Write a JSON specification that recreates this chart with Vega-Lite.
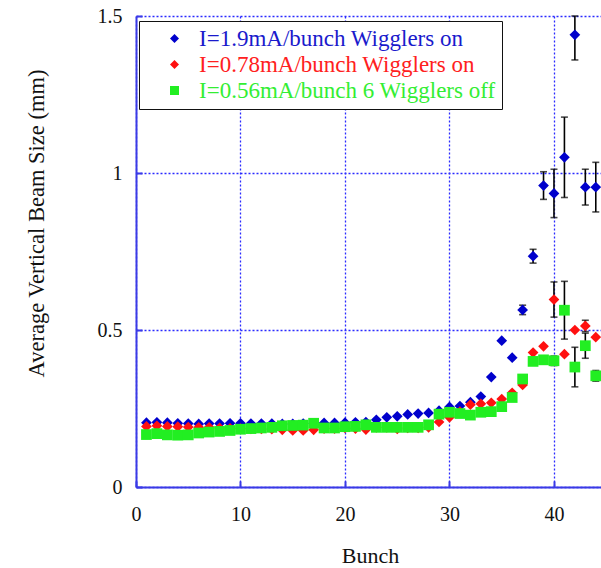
{
  "$schema": "https://vega.github.io/schema/vega-lite/v6.json",
  "width": 465,
  "height": 471,
  "autosize": {"type": "none"},
  "padding": {"left": 136, "top": 16, "right": 0, "bottom": 81},
  "background": "white",
  "config": {
    "view": {"stroke": null},
    "font": "Liberation Serif",
    "axis": {
      "labelFont": "Liberation Serif",
      "titleFont": "Liberation Serif",
      "labelFontSize": 20,
      "titleFontSize": 22.5,
      "labelColor": "#111111",
      "titleColor": "#111111",
      "titleFontWeight": "normal",
      "domainColor": "#3a3ae6",
      "domainWidth": 2,
      "grid": true,
      "gridColor": "#2a2aff",
      "gridDash": [2, 2],
      "gridWidth": 1.3,
      "gridOpacity": 1,
      "tickColor": "#3a3ae6",
      "tickSize": -6,
      "tickWidth": 2
    }
  },
  "datasets": {
    "pts": [
      {"s": "I=1.9mA/bunch Wigglers on", "b": 1, "v": 0.205},
      {"s": "I=1.9mA/bunch Wigglers on", "b": 2, "v": 0.206},
      {"s": "I=1.9mA/bunch Wigglers on", "b": 3, "v": 0.205},
      {"s": "I=1.9mA/bunch Wigglers on", "b": 4, "v": 0.203},
      {"s": "I=1.9mA/bunch Wigglers on", "b": 5, "v": 0.202},
      {"s": "I=1.9mA/bunch Wigglers on", "b": 6, "v": 0.201},
      {"s": "I=1.9mA/bunch Wigglers on", "b": 7, "v": 0.202},
      {"s": "I=1.9mA/bunch Wigglers on", "b": 8, "v": 0.202},
      {"s": "I=1.9mA/bunch Wigglers on", "b": 9, "v": 0.203},
      {"s": "I=1.9mA/bunch Wigglers on", "b": 10, "v": 0.203},
      {"s": "I=1.9mA/bunch Wigglers on", "b": 11, "v": 0.202},
      {"s": "I=1.9mA/bunch Wigglers on", "b": 12, "v": 0.202},
      {"s": "I=1.9mA/bunch Wigglers on", "b": 13, "v": 0.202},
      {"s": "I=1.9mA/bunch Wigglers on", "b": 14, "v": 0.201},
      {"s": "I=1.9mA/bunch Wigglers on", "b": 15, "v": 0.201},
      {"s": "I=1.9mA/bunch Wigglers on", "b": 16, "v": 0.202},
      {"s": "I=1.9mA/bunch Wigglers on", "b": 17, "v": 0.203},
      {"s": "I=1.9mA/bunch Wigglers on", "b": 18, "v": 0.204},
      {"s": "I=1.9mA/bunch Wigglers on", "b": 19, "v": 0.204},
      {"s": "I=1.9mA/bunch Wigglers on", "b": 20, "v": 0.205},
      {"s": "I=1.9mA/bunch Wigglers on", "b": 21, "v": 0.206},
      {"s": "I=1.9mA/bunch Wigglers on", "b": 22, "v": 0.207},
      {"s": "I=1.9mA/bunch Wigglers on", "b": 23, "v": 0.214},
      {"s": "I=1.9mA/bunch Wigglers on", "b": 24, "v": 0.222},
      {"s": "I=1.9mA/bunch Wigglers on", "b": 25, "v": 0.225},
      {"s": "I=1.9mA/bunch Wigglers on", "b": 26, "v": 0.231},
      {"s": "I=1.9mA/bunch Wigglers on", "b": 27, "v": 0.234},
      {"s": "I=1.9mA/bunch Wigglers on", "b": 28, "v": 0.236},
      {"s": "I=1.9mA/bunch Wigglers on", "b": 29, "v": 0.243},
      {"s": "I=1.9mA/bunch Wigglers on", "b": 30, "v": 0.255},
      {"s": "I=1.9mA/bunch Wigglers on", "b": 31, "v": 0.258},
      {"s": "I=1.9mA/bunch Wigglers on", "b": 32, "v": 0.27},
      {"s": "I=1.9mA/bunch Wigglers on", "b": 33, "v": 0.288},
      {"s": "I=1.9mA/bunch Wigglers on", "b": 34, "v": 0.35},
      {"s": "I=1.9mA/bunch Wigglers on", "b": 35, "v": 0.466},
      {"s": "I=1.9mA/bunch Wigglers on", "b": 36, "v": 0.412},
      {"s": "I=1.9mA/bunch Wigglers on", "b": 37, "v": 0.564},
      {"s": "I=1.9mA/bunch Wigglers on", "b": 38, "v": 0.735},
      {"s": "I=1.9mA/bunch Wigglers on", "b": 39, "v": 0.96},
      {"s": "I=1.9mA/bunch Wigglers on", "b": 40, "v": 0.935},
      {"s": "I=1.9mA/bunch Wigglers on", "b": 41, "v": 1.05},
      {"s": "I=1.9mA/bunch Wigglers on", "b": 42, "v": 1.44},
      {"s": "I=1.9mA/bunch Wigglers on", "b": 43, "v": 0.955},
      {"s": "I=1.9mA/bunch Wigglers on", "b": 44, "v": 0.955},
      {"s": "I=0.78mA/bunch Wigglers on", "b": 1, "v": 0.193},
      {"s": "I=0.78mA/bunch Wigglers on", "b": 2, "v": 0.195},
      {"s": "I=0.78mA/bunch Wigglers on", "b": 3, "v": 0.193},
      {"s": "I=0.78mA/bunch Wigglers on", "b": 4, "v": 0.192},
      {"s": "I=0.78mA/bunch Wigglers on", "b": 5, "v": 0.191},
      {"s": "I=0.78mA/bunch Wigglers on", "b": 6, "v": 0.19},
      {"s": "I=0.78mA/bunch Wigglers on", "b": 7, "v": 0.19},
      {"s": "I=0.78mA/bunch Wigglers on", "b": 8, "v": 0.188},
      {"s": "I=0.78mA/bunch Wigglers on", "b": 9, "v": 0.187},
      {"s": "I=0.78mA/bunch Wigglers on", "b": 10, "v": 0.186},
      {"s": "I=0.78mA/bunch Wigglers on", "b": 11, "v": 0.185},
      {"s": "I=0.78mA/bunch Wigglers on", "b": 12, "v": 0.185},
      {"s": "I=0.78mA/bunch Wigglers on", "b": 13, "v": 0.184},
      {"s": "I=0.78mA/bunch Wigglers on", "b": 14, "v": 0.182},
      {"s": "I=0.78mA/bunch Wigglers on", "b": 15, "v": 0.18},
      {"s": "I=0.78mA/bunch Wigglers on", "b": 16, "v": 0.18},
      {"s": "I=0.78mA/bunch Wigglers on", "b": 17, "v": 0.182},
      {"s": "I=0.78mA/bunch Wigglers on", "b": 18, "v": 0.186},
      {"s": "I=0.78mA/bunch Wigglers on", "b": 19, "v": 0.186},
      {"s": "I=0.78mA/bunch Wigglers on", "b": 20, "v": 0.188},
      {"s": "I=0.78mA/bunch Wigglers on", "b": 21, "v": 0.186},
      {"s": "I=0.78mA/bunch Wigglers on", "b": 22, "v": 0.183},
      {"s": "I=0.78mA/bunch Wigglers on", "b": 23, "v": 0.19},
      {"s": "I=0.78mA/bunch Wigglers on", "b": 24, "v": 0.19},
      {"s": "I=0.78mA/bunch Wigglers on", "b": 25, "v": 0.185},
      {"s": "I=0.78mA/bunch Wigglers on", "b": 26, "v": 0.188},
      {"s": "I=0.78mA/bunch Wigglers on", "b": 27, "v": 0.188},
      {"s": "I=0.78mA/bunch Wigglers on", "b": 28, "v": 0.19},
      {"s": "I=0.78mA/bunch Wigglers on", "b": 29, "v": 0.207},
      {"s": "I=0.78mA/bunch Wigglers on", "b": 30, "v": 0.222},
      {"s": "I=0.78mA/bunch Wigglers on", "b": 31, "v": 0.24},
      {"s": "I=0.78mA/bunch Wigglers on", "b": 32, "v": 0.262},
      {"s": "I=0.78mA/bunch Wigglers on", "b": 33, "v": 0.265},
      {"s": "I=0.78mA/bunch Wigglers on", "b": 34, "v": 0.268},
      {"s": "I=0.78mA/bunch Wigglers on", "b": 35, "v": 0.28},
      {"s": "I=0.78mA/bunch Wigglers on", "b": 36, "v": 0.3},
      {"s": "I=0.78mA/bunch Wigglers on", "b": 37, "v": 0.325},
      {"s": "I=0.78mA/bunch Wigglers on", "b": 38, "v": 0.428},
      {"s": "I=0.78mA/bunch Wigglers on", "b": 39, "v": 0.448},
      {"s": "I=0.78mA/bunch Wigglers on", "b": 40, "v": 0.597},
      {"s": "I=0.78mA/bunch Wigglers on", "b": 41, "v": 0.423},
      {"s": "I=0.78mA/bunch Wigglers on", "b": 42, "v": 0.5},
      {"s": "I=0.78mA/bunch Wigglers on", "b": 43, "v": 0.513},
      {"s": "I=0.78mA/bunch Wigglers on", "b": 44, "v": 0.477},
      {"s": "I=0.56mA/bunch 6 Wigglers off", "b": 1, "v": 0.167},
      {"s": "I=0.56mA/bunch 6 Wigglers off", "b": 2, "v": 0.17},
      {"s": "I=0.56mA/bunch 6 Wigglers off", "b": 3, "v": 0.166},
      {"s": "I=0.56mA/bunch 6 Wigglers off", "b": 4, "v": 0.165},
      {"s": "I=0.56mA/bunch 6 Wigglers off", "b": 5, "v": 0.166},
      {"s": "I=0.56mA/bunch 6 Wigglers off", "b": 6, "v": 0.172},
      {"s": "I=0.56mA/bunch 6 Wigglers off", "b": 7, "v": 0.175},
      {"s": "I=0.56mA/bunch 6 Wigglers off", "b": 8, "v": 0.177},
      {"s": "I=0.56mA/bunch 6 Wigglers off", "b": 9, "v": 0.18},
      {"s": "I=0.56mA/bunch 6 Wigglers off", "b": 10, "v": 0.184},
      {"s": "I=0.56mA/bunch 6 Wigglers off", "b": 11, "v": 0.186},
      {"s": "I=0.56mA/bunch 6 Wigglers off", "b": 12, "v": 0.188},
      {"s": "I=0.56mA/bunch 6 Wigglers off", "b": 13, "v": 0.19},
      {"s": "I=0.56mA/bunch 6 Wigglers off", "b": 14, "v": 0.195},
      {"s": "I=0.56mA/bunch 6 Wigglers off", "b": 15, "v": 0.196},
      {"s": "I=0.56mA/bunch 6 Wigglers off", "b": 16, "v": 0.197},
      {"s": "I=0.56mA/bunch 6 Wigglers off", "b": 17, "v": 0.203},
      {"s": "I=0.56mA/bunch 6 Wigglers off", "b": 18, "v": 0.188},
      {"s": "I=0.56mA/bunch 6 Wigglers off", "b": 19, "v": 0.188},
      {"s": "I=0.56mA/bunch 6 Wigglers off", "b": 20, "v": 0.192},
      {"s": "I=0.56mA/bunch 6 Wigglers off", "b": 21, "v": 0.193},
      {"s": "I=0.56mA/bunch 6 Wigglers off", "b": 22, "v": 0.198},
      {"s": "I=0.56mA/bunch 6 Wigglers off", "b": 23, "v": 0.19},
      {"s": "I=0.56mA/bunch 6 Wigglers off", "b": 24, "v": 0.19},
      {"s": "I=0.56mA/bunch 6 Wigglers off", "b": 25, "v": 0.19},
      {"s": "I=0.56mA/bunch 6 Wigglers off", "b": 26, "v": 0.19},
      {"s": "I=0.56mA/bunch 6 Wigglers off", "b": 27, "v": 0.19},
      {"s": "I=0.56mA/bunch 6 Wigglers off", "b": 28, "v": 0.198},
      {"s": "I=0.56mA/bunch 6 Wigglers off", "b": 29, "v": 0.232},
      {"s": "I=0.56mA/bunch 6 Wigglers off", "b": 30, "v": 0.238},
      {"s": "I=0.56mA/bunch 6 Wigglers off", "b": 31, "v": 0.234},
      {"s": "I=0.56mA/bunch 6 Wigglers off", "b": 32, "v": 0.229},
      {"s": "I=0.56mA/bunch 6 Wigglers off", "b": 33, "v": 0.238},
      {"s": "I=0.56mA/bunch 6 Wigglers off", "b": 34, "v": 0.24},
      {"s": "I=0.56mA/bunch 6 Wigglers off", "b": 35, "v": 0.256},
      {"s": "I=0.56mA/bunch 6 Wigglers off", "b": 36, "v": 0.285},
      {"s": "I=0.56mA/bunch 6 Wigglers off", "b": 37, "v": 0.344},
      {"s": "I=0.56mA/bunch 6 Wigglers off", "b": 38, "v": 0.4},
      {"s": "I=0.56mA/bunch 6 Wigglers off", "b": 39, "v": 0.405},
      {"s": "I=0.56mA/bunch 6 Wigglers off", "b": 40, "v": 0.402},
      {"s": "I=0.56mA/bunch 6 Wigglers off", "b": 41, "v": 0.563},
      {"s": "I=0.56mA/bunch 6 Wigglers off", "b": 42, "v": 0.382},
      {"s": "I=0.56mA/bunch 6 Wigglers off", "b": 43, "v": 0.45},
      {"s": "I=0.56mA/bunch 6 Wigglers off", "b": 44, "v": 0.354}
    ],
    "errs": [
      {"b": 37, "lo": 0.549, "hi": 0.579},
      {"b": 38, "lo": 0.713, "hi": 0.757},
      {"b": 39, "lo": 0.916, "hi": 1.004},
      {"b": 40, "lo": 0.858, "hi": 1.012},
      {"b": 41, "lo": 0.922, "hi": 1.178},
      {"b": 42, "lo": 1.36, "hi": 1.5},
      {"b": 43, "lo": 0.898, "hi": 1.012},
      {"b": 44, "lo": 0.876, "hi": 1.034},
      {"b": 40, "lo": 0.541, "hi": 0.653},
      {"b": 43, "lo": 0.495, "hi": 0.531},
      {"b": 40, "lo": 0.387, "hi": 0.417},
      {"b": 41, "lo": 0.471, "hi": 0.655},
      {"b": 42, "lo": 0.319, "hi": 0.445},
      {"b": 43, "lo": 0.41, "hi": 0.49},
      {"b": 44, "lo": 0.337, "hi": 0.371}
    ]
  },
  "layer": [
    {
      "mark": {"type": "rule", "color": "#3a3ae6", "strokeWidth": 2},
      "encoding": {"y": {"datum": 1.5, "type": "quantitative", "scale": {"domain": [0, 1.5], "nice": false}, "title": "Average Vertical Beam Size (mm)"}}
    },
    {
      "data": {"name": "errs"},
      "mark": {"type": "errorbar", "color": "black", "thickness": 1.6, "ticks": {"size": 7, "color": "black", "thickness": 1.6}},
      "encoding": {
        "x": {"field": "b", "type": "quantitative", "scale": {"domain": [0, 44.5], "nice": false}, "title": "Bunch"},
        "y": {"field": "lo", "type": "quantitative", "scale": {"domain": [0, 1.5], "nice": false}, "title": "Average Vertical Beam Size (mm)"},
        "y2": {"field": "hi"}
      }
    },
    {
      "data": {"name": "pts"},
      "mark": {"type": "point", "filled": true, "opacity": 1, "size": 115, "strokeWidth": 0, "clip": true},
      "encoding": {
        "x": {
          "field": "b", "type": "quantitative",
          "scale": {"domain": [0, 44.5], "nice": false},
          "axis": {"values": [0, 10, 20, 30, 40], "grid": true, "title": "Bunch", "titleFontSize": 22, "titleX": 234, "titleY": 75, "titleBaseline": "alphabetic", "labelPadding": 23, "labelFlush": false}
        },
        "y": {
          "field": "v", "type": "quantitative",
          "scale": {"domain": [0, 1.5], "nice": false},
          "axis": {"values": [0, 0.5, 1, 1.5], "grid": true, "format": "~g", "title": "Average Vertical Beam Size (mm)", "titleX": -100, "titleY": 207, "titleBaseline": "middle", "labelPadding": 20, "labelFlush": false}
        },
        "color": {
          "field": "s", "type": "nominal",
          "scale": {"domain": ["I=1.9mA/bunch Wigglers on", "I=0.78mA/bunch Wigglers on", "I=0.56mA/bunch 6 Wigglers off"], "range": ["#0000cc", "#ff1010", "#22ee22"]},
          "legend": {"title": " ", "titleOrient": "left", "titleFontSize": 20, "titlePadding": 18, "orient": "none", "legendX": 3, "legendY": 5, "padding": 6, "strokeColor": "#111111", "fillColor": "white", "labelFont": "Liberation Serif", "labelFontSize": 23, "rowPadding": 2, "symbolSize": 81, "symbolOffset": 0, "labelOffset": 13, "labelLimit": 400, "symbolStrokeWidth": 0, "labelColor": {"expr": "datum.value == 'I=1.9mA/bunch Wigglers on' ? '#1a1acc' : datum.value == 'I=0.78mA/bunch Wigglers on' ? '#ff2020' : '#33ee33'"}, "encode": {"legend": {"update": {"strokeWidth": {"value": 2}}}}}
        },
        "shape": {
          "field": "s", "type": "nominal",
          "scale": {"domain": ["I=1.9mA/bunch Wigglers on", "I=0.78mA/bunch Wigglers on", "I=0.56mA/bunch 6 Wigglers off"], "range": ["diamond", "diamond", "square"]},
          "legend": {"title": " ", "titleOrient": "left", "titleFontSize": 20, "titlePadding": 18, "orient": "none", "legendX": 3, "legendY": 5, "padding": 6, "strokeColor": "#111111", "fillColor": "white", "labelFont": "Liberation Serif", "labelFontSize": 23, "rowPadding": 2, "symbolSize": 81, "symbolOffset": 0, "labelOffset": 13, "labelLimit": 400, "symbolStrokeWidth": 0, "labelColor": {"expr": "datum.value == 'I=1.9mA/bunch Wigglers on' ? '#1a1acc' : datum.value == 'I=0.78mA/bunch Wigglers on' ? '#ff2020' : '#33ee33'"}, "encode": {"legend": {"update": {"strokeWidth": {"value": 2}}}}}
        }
      }
    }
  ]
}
